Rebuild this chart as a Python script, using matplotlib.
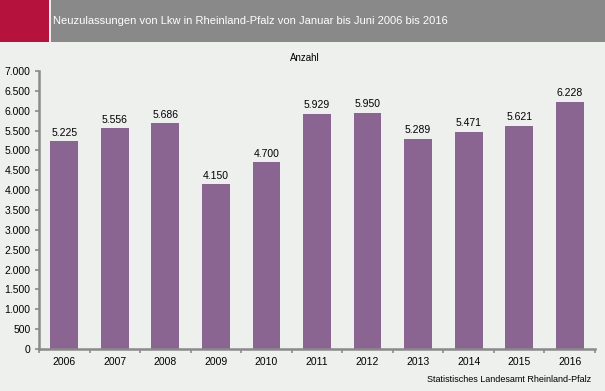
import numpy as np
import matplotlib
matplotlib.use("Agg")
import matplotlib.pyplot as plt
from matplotlib.patches import Rectangle
from matplotlib.ticker import FuncFormatter

# Neuzulassungen Januar bis Juni
years = ["2006", "2007", "2008", "2009", "2010", "2011",
         "2012", "2013", "2014", "2015", "2016"]
counts = [5225, 5556, 5686, 4150, 4700, 5929, 5950, 5289, 5471, 5621, 6228]

title = "Neuzulassungen von Lkw in Rheinland-Pfalz von Januar bis Juni 2006 bis 2016"
unit = "Anzahl"
source = "Statistisches Landesamt Rheinland-Pfalz"

bg = "#eef0ee"
bar_color = "#8b6591"
spine_color = "#8a8a8a"

plt.rcParams["font.family"] = ["Liberation Sans", "DejaVu Sans"]


def de_format(v, pos=None):
    # thousands separator as dot
    return f"{int(v):,}".replace(",", ".")


fig = plt.figure(figsize=(6.05, 3.91), dpi=100, facecolor=bg)

# header band
W, H = 605, 391
fig.patches.append(Rectangle((0, 1 - 42 / H), 49 / W, 42 / H, transform=fig.transFigure,
                             facecolor="#b5123e", edgecolor="none", zorder=0))
fig.patches.append(Rectangle((51 / W, 1 - 42 / H), 1 - 51 / W, 42 / H, transform=fig.transFigure,
                             facecolor="#898989", edgecolor="none", zorder=0))
fig.text(53 / W, 1 - 21 / H, title, color="white", fontsize=8, va="center", ha="left")

ax = fig.add_axes([39 / W, 1 - 349 / H, (595 - 39) / W, (349 - 71) / H])
ax.set_facecolor(bg)

x = np.arange(len(years))
bars = ax.bar(x, counts, width=0.55, color=bar_color, zorder=2)
for xi, v in zip(x, counts):
    ax.text(xi, v + 90, de_format(v), ha="center", va="bottom", fontsize=7.5, color="black")

ax.set_xlim(-0.5, len(years) - 0.5)
ax.set_ylim(0, 7000)
ax.set_yticks(np.arange(0, 7001, 500))
ax.yaxis.set_major_formatter(FuncFormatter(de_format))

# years as minor-position labels, ticks at category borders
ax.set_xticks(np.arange(-0.5, len(years), 1))
ax.set_xticklabels([])
ax.set_xticks(x, minor=True)
ax.set_xticklabels(years, minor=True)
ax.tick_params(axis="x", which="minor", length=0, labelsize=7.5, pad=6)
ax.tick_params(axis="x", which="major", length=3, width=1.2, color=spine_color, direction="out")
ax.tick_params(axis="y", length=3, width=1.2, color=spine_color, labelsize=7.5, pad=3)

for side in ["top", "right"]:
    ax.spines[side].set_visible(False)
for side in ["left", "bottom"]:
    ax.spines[side].set_color(spine_color)
    ax.spines[side].set_linewidth(1.8)

fig.text(305 / W, 1 - 58 / H, unit, ha="center", va="center", fontsize=7)
fig.text(591 / W, 1 - 379 / H, source, ha="right", va="center", fontsize=6.5)

fig.savefig("out.png", dpi=100, facecolor=bg)
